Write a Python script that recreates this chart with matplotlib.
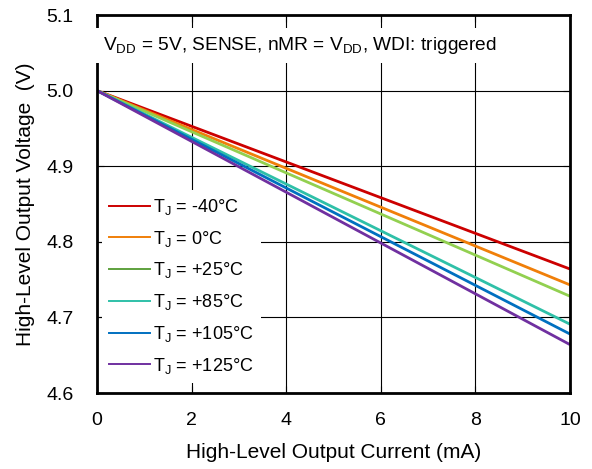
import matplotlib.pyplot as plt
from matplotlib.lines import Line2D

plt.rcParams['font.family'] = ['Liberation Sans', 'DejaVu Sans']

current = [0, 10]
labels = ['-40°C', '0°C', '+25°C', '+85°C', '+105°C', '+125°C']
v_m40 = [5.0, 4.764]
v_0 = [5.0, 4.743]
v_25 = [5.0, 4.728]
v_85 = [5.0, 4.691]
v_105 = [5.0, 4.678]
v_125 = [5.0, 4.664]
series = [v_m40, v_0, v_25, v_85, v_105, v_125]
line_colors = ['#CC0000', '#F07F09', '#92D050', '#2FC0A8', '#0070C0', '#7030A0']
legend_colors = ['#CC0000', '#F07F09', '#5EA13E', '#2FC0A8', '#0070C0', '#7030A0']

fig = plt.figure(figsize=(5.92, 4.69), dpi=100)
ax = fig.add_axes([0.1639, 0.162, 0.799, 0.806])

for v, c in zip(series, line_colors):
    ax.plot(current, v, color=c, lw=2.0, solid_capstyle='butt')

ax.set_xlim(0, 10)
ax.set_ylim(4.6, 5.1)
ax.set_xticks([0, 2, 4, 6, 8, 10])
ax.set_yticks([4.6, 4.7, 4.8, 4.9, 5.0, 5.1])
ax.set_yticklabels(['4.6', '4.7', '4.8', '4.9', '5.0', '5.1'])
ax.grid(True, color='black', lw=0.8)
ax.set_axisbelow(True)
ax.tick_params(direction='in', length=5, width=0.8, top=True, right=True,
               labelsize=14)
ax.tick_params(axis='x', pad=14)
ax.tick_params(axis='y', pad=17)
for s in ax.spines.values():
    s.set_linewidth(2)

ax.set_xlabel('High-Level Output Current (mA)', fontsize=15, labelpad=10)
ax.set_ylabel('High-Level Output Voltage  (V)', fontsize=15, labelpad=8)

ax.text(0.013, 0.92, r'V$_{\mathregular{DD}}$ = 5V, SENSE, nMR = V$_{\mathregular{DD}}$, WDI: triggered',
        transform=ax.transAxes, fontsize=13.8, va='center', ha='left',
        bbox=dict(facecolor='white', edgecolor='none', pad=5), zorder=5)

handles = [Line2D([], [], color=c, lw=1.4) for c in legend_colors]
leg = ax.legend(handles, [r'T$_{\mathregular{J}}$ = ' + l for l in labels],
                loc='lower left', bbox_to_anchor=(0.0, 0.015), fontsize=13,
                frameon=True, fancybox=False, framealpha=1, edgecolor='none',
                handlelength=2.3, handletextpad=0.15, labelspacing=0.65,
                borderaxespad=0.25)
leg.set_zorder(5)

fig.savefig('out.png', dpi=100)
